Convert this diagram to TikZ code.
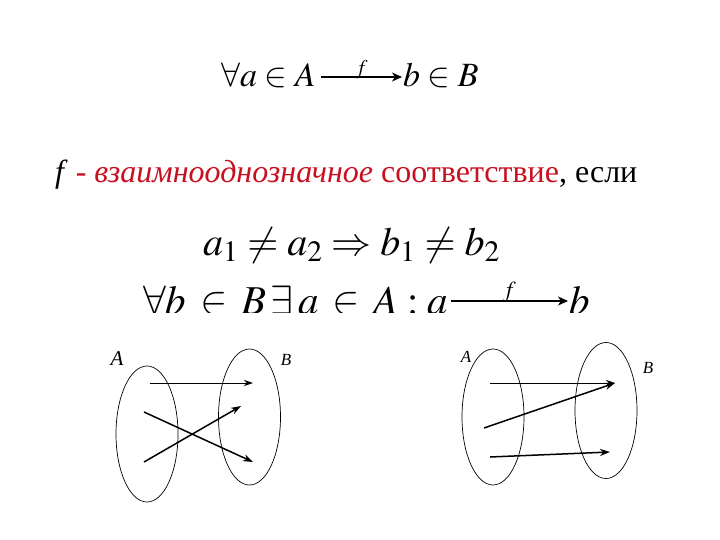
\documentclass[tikz,border=0pt]{standalone}
\usepackage{amsmath}
\usepackage{mathptmx}
\usepackage[no-math]{fontspec}
\setmainfont{Liberation Serif}
\usetikzlibrary{arrows.meta,shapes.geometric}
\definecolor{myred}{RGB}{200,16,32}
\tikzset{
  setell/.style={draw=black, line width=0.7pt, ellipse, minimum width=62pt, minimum height=136pt, inner sep=0pt},
  setlbl/.style={font=\fontsize{17}{20}\selectfont\itshape, inner sep=0pt},
  thinarr/.style={-{Stealth[length=9pt,width=6pt]}, line width=0.8pt},
  thickarr/.style={-{Stealth[length=10pt,width=7pt]}, line width=1.5pt},
  matharr/.style={-{Stealth[length=10pt,width=9pt,inset=3pt]}, line width=1.1pt},
  mtxt/.style={anchor=base west, inner sep=0pt},
}
\begin{document}
\begin{tikzpicture}[x=1pt,y=-1pt]
\useasboundingbox (0,0) rectangle (720,540);
% line 1
\node[mtxt, font=\fontsize{34}{36}\selectfont] (l1a) at (221,87) {$\forall a\in A$};
\node[mtxt, font=\fontsize{34}{36}\selectfont] (l1b) at (403,87) {$b\in B$};
\draw[matharr] ([xshift=5pt,yshift=10pt]l1a.base east) -- node[above=-3pt, inner sep=1pt, font=\fontsize{21}{22}\selectfont] (f1) {$f$} ([xshift=-1pt,yshift=10pt]l1b.base west);
% line 2
\node[mtxt, font=\fontsize{32}{36}\selectfont] (l2) at (55,183)
  {\textit{f} \textcolor{myred}{- \textit{взаимнооднозначное} соответствие}, если};
% line 3
\node[mtxt, font=\fontsize{40}{44}\selectfont] (l3) at (203,255)
  {$a_1\neq a_2\Rightarrow b_1\neq b_2$};
% line 4 (cut at the bottom)
\begin{scope}
\clip (0,0) rectangle (720,312);
\node[mtxt, font=\fontsize{41}{44}\selectfont] (l4a) at (143,314)
  {$\forall b\mathrel{\,\in\,} B\,\exists\, a\mathrel{\,\in\,} A: a$};
\node[mtxt, font=\fontsize{41}{44}\selectfont] (l4b) at (569,314) {$b$};
\end{scope}
\draw[matharr] ([xshift=2pt,yshift=13pt]l4a.base east) -- node[above=-3pt, inner sep=1pt, font=\fontsize{23}{24}\selectfont] (f4) {$f$} ([xshift=-1pt,yshift=13pt]l4b.base west);
% left diagram
\node[setell] (eA1) at (147,434) {};
\node[setell] (eB1) at (249.5,417) {};
\node[setlbl, font=\fontsize{21}{22}\selectfont\itshape] (tA1) at (117,359) {A};
\node[setlbl] (tB1) at (286,360) {B};
\coordinate (p1) at (150,383); \coordinate (q1) at (253,383);
\coordinate (p2) at (144,462); \coordinate (q2) at (241,406);
\coordinate (p3) at (144,412); \coordinate (q3) at (253,462);
\draw[thinarr] (p1) -- (q1);
\draw[thickarr] (p2) -- (q2);
\draw[thickarr] (p3) -- (q3);
% right diagram
\node[setell] (eA2) at (493,417) {};
\node[setell] (eB2) at (606,410.5) {};
\node[setlbl] (tA2) at (466,357) {A};
\node[setlbl] (tB2) at (648,368) {B};
\coordinate (r1) at (490,383); \coordinate (s1) at (615,383);
\coordinate (r2) at (484,428); \coordinate (s2) at (615,383);
\coordinate (r3) at (490,457); \coordinate (s3) at (610,452);
\draw[thinarr] (r1) -- (s1);
\draw[thickarr] (r2) -- (s2);
\draw[thickarr] (r3) -- (s3);
\end{tikzpicture}
\end{document}
